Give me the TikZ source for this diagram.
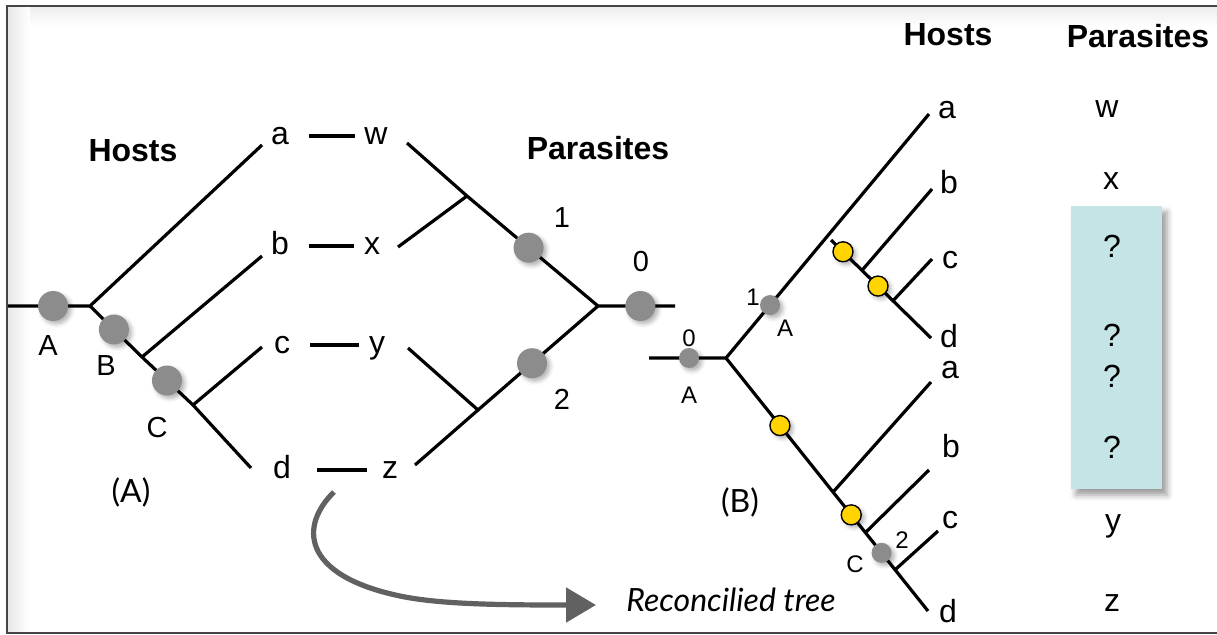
\documentclass[tikz,border=0pt]{standalone}
\usepackage{fontspec}
\setmainfont{Liberation Sans}
\newfontfamily\capfont{Lato}
\usetikzlibrary{calc,arrows.meta,shadows.blur}
\definecolor{boxblue}{HTML}{C4E4E6}
\definecolor{lossyellow}{HTML}{FFD400}
\definecolor{framegray}{HTML}{454545}
\tikzset{
  branch/.style={line width=1.6pt},
  assoc/.style={branch, shorten <=9.7pt, shorten >=4.6pt},
  leaf/.style={font=\fontsize{16}{19}\selectfont, inner sep=0pt, text height=8pt, text depth=0pt},
  header/.style={font=\bfseries\fontsize{16}{19}\selectfont, inner sep=0pt},
  tag/.style={font=\fontsize{14.5}{17}\selectfont, inner sep=0pt},
  smalltag/.style={font=\fontsize{12}{14}\selectfont, inner sep=0pt},
  panel/.style={font=\capfont\fontsize{16}{19}\selectfont, inner sep=0pt},
  softshadow/.style={blur shadow={shadow xshift=1.5pt, shadow yshift=-1.5pt, shadow blur radius=2pt, shadow opacity=30}},
  event/.style={circle, fill=black!45, inner sep=0pt, minimum size=15pt, softshadow},
  smallevent/.style={circle, fill=black!45, inner sep=0pt, minimum size=10pt, softshadow},
  loss/.style={circle, draw=black, line width=0.7pt, fill=lossyellow, inner sep=0pt, minimum size=10pt, softshadow},
}
\begin{document}
\begin{tikzpicture}[x=0.5pt,y=-0.5pt]
  \useasboundingbox (0,0) rectangle (1217,634);
  % frame
  \shade[top color=black!7, bottom color=white] (8,7) rectangle (1217,26);
  \shade[left color=black!9, right color=white] (8,7) rectangle (30,632);
  \draw[line width=1.3pt, framegray] (7,6) rectangle (1240,633);

  % (A) host tree
  \node[header] (hostsA) at (133,151) {Hosts};
  \coordinate (hR) at (8,306);
  \coordinate (hA) at (90,306);
  \coordinate (hB) at (142,357);
  \coordinate (hC) at (193,405);
  \coordinate (ta) at (262,145);
  \coordinate (tb) at (262,256);
  \coordinate (tc) at (262,347);
  \coordinate (td) at (251,468);
  \draw[branch] (hR) -- (hA) -- (ta);
  \draw[branch] (hA) -- (hB) -- (hC) -- (td);
  \draw[branch] (hB) -- (tb);
  \draw[branch] (hC) -- (tc);
  \node[event] (eA) at ($(hR)!0.55!(hA)$) {};
  \node[event] (eB) at ($(hA)!0.46!(hB)$) {};
  \node[event] (eC) at ($(hB)!0.49!(hC)$) {};
  \node[tag] (lA) at (48,346) {A};
  \node[tag] (lB) at (106,366) {B};
  \node[tag] (lC) at (157,428) {C};

  % (A) leaves and associations
  \node[leaf] (ha) at (280,136) {a};
  \node[leaf] (hb) at (280,246) {b};
  \node[leaf] (hc) at (282,345) {c};
  \node[leaf] (hd) at (282,470) {d};
  \node[leaf] (pw) at (376,136) {w};
  \node[leaf] (px) at (372,246) {x};
  \node[leaf] (py) at (377,345) {y};
  \node[leaf] (pz) at (390,470) {z};
  \draw[assoc] (ha) -- (pw);
  \draw[assoc] (hb) -- (px);
  \draw[assoc] (hc) -- (py);
  \draw[assoc, shorten <=13pt, shorten >=7.5pt] (hd) -- (pz);

  % (A) parasite tree
  \node[header] (parasA) at (598,148) {Parasites};
  \coordinate (qw) at (407,143);
  \coordinate (qx) at (398,247);
  \coordinate (qy) at (408,348);
  \coordinate (qz) at (415,465);
  \coordinate (qWX) at (467,196);
  \coordinate (qYZ) at (478,410);
  \coordinate (q0) at (598,306);
  \coordinate (qS) at (675,306);
  \draw[branch] (qw) -- (qWX) -- (q0) -- (qS);
  \draw[branch] (qx) -- (qWX);
  \draw[branch] (qy) -- (qYZ) -- (q0);
  \draw[branch] (qz) -- (qYZ);
  \node[event] (e1) at ($(qWX)!0.47!(q0)$) {};
  \node[event] (e2) at ($(q0)!0.55!(qYZ)$) {};
  \node[event] (e0) at ($(q0)!0.55!(qS)$) {};
  \node[tag] (l1) at (562,218) {1};
  \node[tag] (l0) at (641,262) {0};
  \node[tag] (l2) at (562,399) {2};
  \node[panel] (capA) at (131,492) {(A)};

  % arrow to the reconciled tree
  \node[panel, font=\capfont\itshape\fontsize{16}{19}\selectfont] (rec) at (731,600) {Reconcilied tree};
  \coordinate (arrS) at (334,492);
  \coordinate (arrE) at (596,605);
  \draw[line width=2.6pt, black!62, -{Triangle[length=15pt,width=17pt]}]
    (arrS) .. controls (300,525) and (300,575) .. (400,596)
    .. controls (440,604.4) and (500,605) .. (arrE);

  % (B) reconciled tree
  \node[header] (hostsB) at (948,35) {Hosts};
  \node[header] (parasB) at (1138,36) {Parasites};
  \coordinate (rS) at (649,358);
  \coordinate (r0) at (726,358);
  \coordinate (ua) at (929,114);
  \coordinate (uS) at (831,240);
  \coordinate (ud) at (931,338);
  \coordinate (ub) at (932,189);
  \coordinate (uc) at (932,259);
  \coordinate (ujb) at ($(uS)!0.31!(ud)$);
  \coordinate (ujc) at ($(uS)!0.62!(ud)$);
  \coordinate (ld) at (928,611);
  \coordinate (la) at (931,382);
  \coordinate (lb) at (929,470);
  \coordinate (lc) at (938,531);
  \coordinate (lja) at ($(r0)!0.53!(ld)$);
  \coordinate (ljb) at ($(r0)!0.69!(ld)$);
  \coordinate (ljc) at ($(r0)!0.837!(ld)$);
  \draw[branch] (rS) -- (r0) -- (ua);
  \draw[branch] (uS) -- (ud);
  \draw[branch] (ujb) -- (ub);
  \draw[branch] (ujc) -- (uc);
  \draw[branch] (r0) -- (ld);
  \draw[branch] (lja) -- (la);
  \draw[branch] (ljb) -- (lb);
  \draw[branch] (ljc) -- (lc);
  \node[smallevent] (s0) at ($(rS)!0.52!(r0)$) {};
  \node[smallevent] (s1) at ($(r0)!0.217!(ua)$) {};
  \node[smallevent] (s2) at ($(r0)!0.77!(ld)$) {};
  \node[loss] (y1) at ($(uS)!0.12!(ud)$) {};
  \node[loss] (y2) at ($(uS)!0.47!(ud)$) {};
  \node[loss] (y3) at ($(r0)!0.267!(ld)$) {};
  \node[loss] (y4) at ($(r0)!0.62!(ld)$) {};
  \node[smalltag] (m0) at (689,338) {0};
  \node[smalltag] (m0A) at (689,395) {A};
  \node[smalltag] (m1) at (753,297) {1};
  \node[smalltag] (m1A) at (785,328) {A};
  \node[smalltag] (m2) at (902,540) {2};
  \node[smalltag] (m2C) at (855,564) {C};
  \node[panel] (capB) at (740,502) {(B)};

  % (B) host column
  \node[leaf] (ca1) at (947,110) {a};
  \node[leaf] (cb1) at (949,185) {b};
  \node[leaf] (cc1) at (950,260) {c};
  \node[leaf] (cd1) at (949,339) {d};
  \node[leaf] (ca2) at (950,370) {a};
  \node[leaf] (cb2) at (951,449) {b};
  \node[leaf] (cc2) at (950,520) {c};
  \node[leaf] (cd2) at (948,614) {d};

  % (B) parasite column
  \path[fill=boxblue, blur shadow={shadow xshift=2.5pt, shadow yshift=-3pt, shadow blur radius=3pt, shadow opacity=40}]
    (1071,206) rectangle (1162,489);
  \node[leaf] (cw) at (1107,109) {w};
  \node[leaf] (cx) at (1111,181) {x};
  \node[leaf] (cq1) at (1112,249) {?};
  \node[leaf] (cq2) at (1112,338) {?};
  \node[leaf] (cq3) at (1112,379) {?};
  \node[leaf] (cq4) at (1112,450) {?};
  \node[leaf] (cy) at (1113,523) {y};
  \node[leaf] (cz) at (1112,603) {z};
\end{tikzpicture}
\end{document}
